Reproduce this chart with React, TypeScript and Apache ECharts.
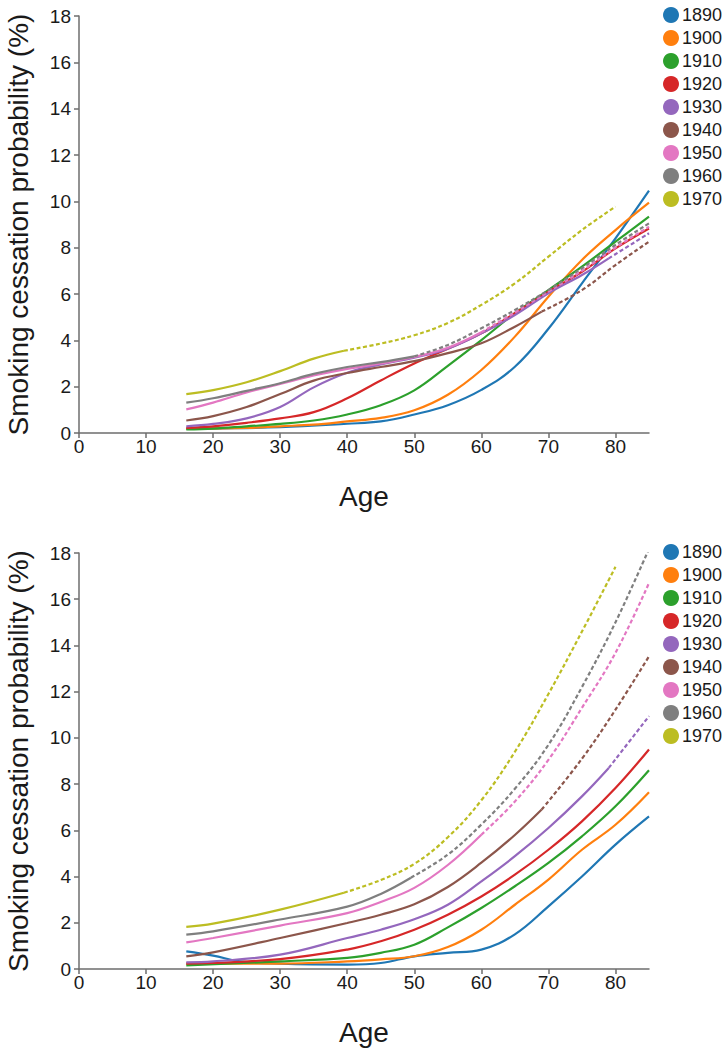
import { useEffect, useRef } from 'react';
import * as echarts from 'echarts';

const cohorts = ['1890', '1900', '1910', '1920', '1930', '1940', '1950', '1960', '1970'];
const colors = ['#1f77b4', '#ff7f0e', '#2ca02c', '#d62728', '#9467bd', '#8c564b', '#e377c2', '#7f7f7f', '#bcbd22'];

// age from which each cohort's curve is projected (dashed); null = fully observed
const projectedFromTop = [null, null, null, null, 79, 69, 60, 50, 39.5];
const projectedFromBottom = [null, null, null, null, 79, 69, 60, 49.5, 39.5];

// Top panel: [age, cessation probability %]
const top1890 = [[16, 0.19], [20, 0.2], [30, 0.25], [40, 0.4], [45, 0.5], [50, 0.8], [55, 1.2], [60, 1.86], [65, 2.86], [70, 4.5], [75, 6.46], [80, 8.4], [85, 10.46]];
const top1900 = [[16, 0.18], [25, 0.22], [30, 0.29], [35, 0.36], [40, 0.5], [45, 0.65], [50, 0.98], [55, 1.65], [60, 2.72], [65, 4.16], [70, 5.88], [75, 7.47], [80, 8.76], [85, 9.94]];
const top1910 = [[16, 0.15], [20, 0.19], [25, 0.29], [30, 0.39], [35, 0.54], [40, 0.8], [45, 1.2], [50, 1.84], [55, 2.9], [60, 4.01], [65, 5.17], [70, 6.17], [75, 7.18], [80, 8.26], [85, 9.34]];
const top1920 = [[16, 0.22], [20, 0.29], [25, 0.44], [30, 0.63], [35, 0.9], [40, 1.5], [45, 2.27], [50, 3.0], [55, 3.64], [60, 4.3], [65, 5.17], [70, 6.1], [75, 6.96], [80, 7.97], [85, 8.83]];
const top1930 = [[16, 0.29], [20, 0.39], [25, 0.63], [30, 1.12], [35, 1.97], [40, 2.6], [45, 2.96], [50, 3.25], [55, 3.64], [60, 4.3], [65, 5.09], [70, 6.03], [75, 6.82], [79, 7.54], [85, 8.62]];
const top1940 = [[16, 0.54], [20, 0.73], [25, 1.12], [30, 1.68], [35, 2.26], [40, 2.59], [45, 2.85], [50, 3.1], [55, 3.45], [60, 3.87], [65, 4.59], [69, 5.24], [75, 6.17], [80, 7.25], [85, 8.26]];
const top1950 = [[16, 1.02], [20, 1.31], [25, 1.75], [30, 2.12], [35, 2.48], [40, 2.77], [45, 3.0], [50, 3.28], [55, 3.68], [60, 4.35], [65, 5.2], [70, 6.1], [75, 7.0], [80, 8.0], [85, 8.9]];
const top1960 = [[16, 1.31], [20, 1.5], [25, 1.82], [30, 2.15], [35, 2.55], [40, 2.85], [45, 3.06], [50, 3.31], [55, 3.8], [60, 4.52], [65, 5.31], [70, 6.17], [75, 7.11], [80, 8.12], [85, 9.05]];
const top1970 = [[16, 1.68], [20, 1.85], [25, 2.19], [30, 2.67], [35, 3.21], [39.5, 3.55], [45, 3.86], [50, 4.22], [55, 4.75], [60, 5.53], [65, 6.46], [70, 7.61], [75, 8.76], [80, 9.77]];

// Bottom panel: [age, cessation probability %]
const bot1890 = [[16, 0.76], [20, 0.58], [24, 0.33], [30, 0.23], [40, 0.19], [45, 0.26], [50, 0.55], [55, 0.7], [60, 0.84], [65, 1.5], [70, 2.71], [75, 4.0], [80, 5.38], [85, 6.6]];
const bot1900 = [[16, 0.23], [30, 0.23], [40, 0.33], [45, 0.42], [50, 0.55], [55, 0.95], [60, 1.7], [65, 2.78], [70, 3.87], [75, 5.16], [80, 6.24], [85, 7.65]];
const bot1910 = [[16, 0.16], [30, 0.33], [40, 0.48], [45, 0.7], [50, 1.05], [55, 1.8], [60, 2.64], [65, 3.58], [70, 4.59], [75, 5.74], [80, 7.04], [85, 8.6]];
const bot1920 = [[16, 0.23], [30, 0.43], [40, 0.84], [45, 1.2], [50, 1.7], [55, 2.35], [60, 3.14], [65, 4.08], [70, 5.16], [75, 6.39], [80, 7.83], [85, 9.5]];
const bot1930 = [[16, 0.29], [20, 0.33], [30, 0.62], [40, 1.34], [45, 1.7], [50, 2.15], [55, 2.78], [60, 3.79], [65, 4.88], [70, 6.1], [75, 7.47], [79, 8.7], [85, 10.94]];
const bot1940 = [[16, 0.55], [20, 0.72], [30, 1.34], [40, 1.99], [45, 2.35], [50, 2.8], [55, 3.55], [60, 4.6], [65, 5.8], [69, 6.9], [75, 9.1], [80, 11.22], [85, 13.53]];
const bot1950 = [[16, 1.15], [20, 1.34], [30, 1.88], [40, 2.42], [45, 2.9], [50, 3.51], [55, 4.5], [60, 5.81], [65, 7.25], [70, 9.05], [75, 11.3], [80, 13.68], [85, 16.7]];
const bot1960 = [[16, 1.49], [20, 1.63], [30, 2.14], [40, 2.7], [45, 3.25], [49.5, 3.95], [55, 4.95], [60, 6.25], [65, 7.8], [70, 9.7], [75, 12.2], [80, 15.0], [85, 18.18]];
const bot1970 = [[16, 1.82], [20, 1.96], [30, 2.57], [39.5, 3.3], [45, 3.85], [50, 4.55], [55, 5.7], [60, 7.3], [65, 9.4], [70, 11.9], [75, 14.6], [80, 17.4]];

const topData = [top1890, top1900, top1910, top1920, top1930, top1940, top1950, top1960, top1970];
const botData = [bot1890, bot1900, bot1910, bot1920, bot1930, bot1940, bot1950, bot1960, bot1970];

const xTicks = { min: 0, max: 85, interval: 10 };
const yTicks = { min: 0, max: 18, interval: 2 };

const FONT = '"Liberation Sans", Arial, Helvetica, sans-serif';
const AXIS_COLOR = '#6e6e6e';
const TEXT_COLOR = '#1a1a1a';

function buildSeries(data: number[][][], split: (number | null)[], axisIndex: number) {
  const out: any[] = [];
  data.forEach((pts, i) => {
    const s = split[i];
    const base = {
      type: 'line',
      name: cohorts[i],
      xAxisIndex: axisIndex,
      yAxisIndex: axisIndex,
      smooth: 0.4,
      showSymbol: false,
      symbol: 'none',
      color: colors[i],
      itemStyle: { color: colors[i] },
      emphasis: { disabled: true },
    };
    if (s === null) {
      out.push({ ...base, data: pts, lineStyle: { width: 2.2, color: colors[i] } });
    } else {
      out.push({ ...base, data: pts.filter((p) => p[0] <= s), lineStyle: { width: 2.2, color: colors[i] } });
      out.push({ ...base, data: pts.filter((p) => p[0] >= s), lineStyle: { width: 2.2, color: colors[i], type: [4, 2.5] } });
    }
  });
  return out;
}

function xAxis(gridIndex: number) {
  return {
    type: 'value',
    gridIndex,
    ...xTicks,
    name: 'Age',
    nameLocation: 'middle',
    nameGap: 49,
    nameTextStyle: { fontSize: 28, color: TEXT_COLOR, fontFamily: FONT },
    axisLine: { show: true, lineStyle: { color: AXIS_COLOR, width: 1.5 } },
    axisTick: { show: true, length: 5, lineStyle: { color: AXIS_COLOR, width: 1.5 } },
    axisLabel: { fontSize: 19, color: TEXT_COLOR, fontFamily: FONT, margin: 4, showMaxLabel: false },
    splitLine: { show: false },
  };
}

function yAxis(gridIndex: number) {
  return {
    type: 'value',
    gridIndex,
    ...yTicks,
    name: 'Smoking cessation probability (%)',
    nameLocation: 'middle',
    nameGap: 47,
    nameTextStyle: { fontSize: 28, color: TEXT_COLOR, fontFamily: FONT },
    axisLine: { show: true, lineStyle: { color: AXIS_COLOR, width: 1.5 } },
    axisTick: { show: true, length: 5, lineStyle: { color: AXIS_COLOR, width: 1.5 } },
    axisLabel: { fontSize: 19, color: TEXT_COLOR, fontFamily: FONT, margin: 8 },
    splitLine: { show: false },
  };
}

function legend(top: number) {
  return {
    orient: 'vertical',
    left: 663,
    top,
    padding: 0,
    itemWidth: 16,
    itemHeight: 16,
    itemGap: 5,
    icon: 'circle',
    selectedMode: false,
    data: cohorts.map((name, i) => ({ name, itemStyle: { color: colors[i], borderWidth: 0 } })),
    textStyle: { fontSize: 18, color: TEXT_COLOR, fontFamily: FONT, padding: [0, 0, 0, -2] },
  };
}

export default function App() {
  const ref = useRef<HTMLDivElement>(null);
  useEffect(() => {
    document.body.style.margin = '0';
    if (!ref.current) return;
    const chart = echarts.init(ref.current, undefined, { renderer: 'svg' });
    chart.setOption({
      animation: false,
      backgroundColor: '#ffffff',
      grid: [
        { left: 79, top: 16, width: 570, height: 417, outerBoundsMode: 'none', containLabel: false },
        { left: 79, top: 553, width: 570, height: 416, outerBoundsMode: 'none', containLabel: false },
      ],
      xAxis: [xAxis(0), xAxis(1)],
      yAxis: [yAxis(0), yAxis(1)],
      legend: [legend(6), legend(543)],
      series: [...buildSeries(topData, projectedFromTop, 0), ...buildSeries(botData, projectedFromBottom, 1)],
    });
    return () => chart.dispose();
  }, []);
  return <div ref={ref} style={{ width: 723, height: 1050 }} />;
}
